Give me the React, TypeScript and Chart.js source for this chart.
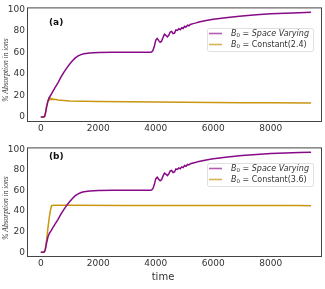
import React, { useEffect, useRef } from 'react';
import { Chart, registerables } from 'chart.js';
Chart.register(...registerables);

// Space-varying B0 (same in both panels)
const purpleT = [0, 100, 130, 160, 200, 250, 300, 350, 400, 500, 600, 700, 800, 900, 1000, 1100, 1200, 1300, 1400, 1500, 1700, 2000, 2500, 3000, 3500, 3800, 3850, 3900, 3950, 4000, 4050, 4100, 4150, 4200, 4250, 4300, 4350, 4400, 4450, 4500, 4550, 4600, 4650, 4700, 4750, 4800, 4850, 4900, 4950, 5000, 5050, 5100, 5150, 5200, 5300, 5400, 5500, 5750, 6000, 6500, 7000, 7500, 8000, 8500, 9000, 9400];
const purpleV = [0, 0, 0.5, 3, 9, 15, 18.5, 20.5, 23, 27.5, 32, 37, 41.5, 45.5, 49, 52.3, 55, 56.8, 58, 58.8, 59.6, 60, 60.2, 60.2, 60.2, 60.2, 60.5, 61.8, 66, 71.5, 73, 71, 69.5, 70.5, 74, 77, 76, 74.5, 76, 79, 79.5, 77.5, 78, 81, 80.5, 82, 81.2, 83, 82.3, 84.3, 83.6, 85.3, 84.8, 86, 86.8, 87.5, 88.3, 89.7, 90.8, 92.6, 94, 95.1, 95.9, 96.5, 97, 97.3];

// Panel (a): constant B0 = 2.4
const goldAT = [0, 100, 130, 160, 200, 250, 280, 310, 340, 370, 400, 450, 500, 600, 800, 1000, 1500, 2000, 3000, 4000, 5000, 6000, 7000, 8000, 9400];
const goldAV = [0, 0, 0.5, 4, 10, 15, 17.3, 16, 17.5, 16.2, 17, 16.2, 16.5, 15.9, 15.4, 15, 14.7, 14.5, 14.2, 14, 13.8, 13.6, 13.4, 13.2, 13];

// Panel (b): constant B0 = 3.6
const goldBT = [0, 100, 150, 200, 250, 300, 350, 380, 500, 1000, 3000, 6000, 9000, 9400];
const goldBV = [0, 0, 2, 12, 24, 35, 43, 45.5, 45.6, 45.6, 45.5, 45.5, 45.4, 45.2];

const xTicks = [0, 2000, 4000, 6000, 8000];
const yTicks = [0, 20, 40, 60, 80, 100];
const xMin = -480;
const xMax = 9780;
const yMin = -4.6;
const yMax = 101.9;

const seriesName = 'Space Varying';
const constantA = 'Constant(2.4)';
const constantB = 'Constant(3.6)';
const yTitle = '% Absorption in ions';
const xTitle = 'time';

const PURPLE = '#870a87';
const GOLD = '#c8960f';
const PURPLE_L = '#b45cb4';
const GOLD_L = '#d9b257';
const TEXT = '#333333';

const pts = (t: number[], v: number[]) => t.map((x, i) => ({ x, y: v[i] }));

type PanelOpts = {
  goldT: number[];
  goldV: number[];
  height: number;
  padTop: number;
  xHeight: number;
  panel: string;
  panelY: number;
  constantLabel: string;
  legendY: number;
  yTitleY: number;
  showXTitle: boolean;
  xTitleY: number;
};

function drawLegendRow(ctx: CanvasRenderingContext2D, x: number, y: number, color: string, italicTail: boolean, tail: string) {
  ctx.save();
  ctx.strokeStyle = color;
  ctx.lineWidth = 1.6;
  ctx.beginPath();
  ctx.moveTo(x, y);
  ctx.lineTo(x + 13, y);
  ctx.stroke();
  ctx.fillStyle = TEXT;
  ctx.textBaseline = 'middle';
  ctx.textAlign = 'left';
  let tx = x + 22;
  ctx.font = 'italic 8px "DejaVu Sans"';
  ctx.fillText('B', tx, y);
  tx += ctx.measureText('B').width;
  ctx.font = '5.5px "DejaVu Sans"';
  ctx.fillText('0', tx, y + 2);
  tx += ctx.measureText('0').width;
  ctx.font = '8px "DejaVu Sans"';
  ctx.fillText(' = ', tx, y);
  tx += ctx.measureText(' = ').width;
  ctx.font = (italicTail ? 'italic ' : '') + '8px "DejaVu Sans"';
  ctx.fillText(tail, tx, y);
  ctx.restore();
}

function makeConfig(o: PanelOpts): any {
  const deco = {
    id: 'deco',
    afterDraw(chart: any) {
      const { ctx, chartArea } = chart;
      const { left, top, right, bottom } = chartArea;
      ctx.save();
      // frame
      ctx.strokeStyle = '#444444';
      ctx.lineWidth = 1;
      ctx.strokeRect(left + 0.5, top + 0.5, right - left - 1, bottom - top - 1);
      // panel label
      ctx.fillStyle = '#111111';
      ctx.font = 'bold 9px "DejaVu Sans"';
      ctx.textBaseline = 'middle';
      ctx.textAlign = 'left';
      ctx.fillText(o.panel, 49, o.panelY);
      // legend box
      const bx = 207, by = o.legendY, bw = 106, bh = 23;
      ctx.fillStyle = 'rgba(255,255,255,0.9)';
      ctx.strokeStyle = '#d8d8d8';
      ctx.lineWidth = 0.8;
      ctx.beginPath();
      if ((ctx as any).roundRect) (ctx as any).roundRect(bx + 0.5, by + 0.5, bw, bh, 2);
      else ctx.rect(bx + 0.5, by + 0.5, bw, bh);
      ctx.fill();
      ctx.stroke();
      drawLegendRow(ctx, 209, by + 5.5, PURPLE_L, true, seriesName);
      drawLegendRow(ctx, 209, by + 16.5, GOLD_L, false, o.constantLabel);
      // y title
      ctx.save();
      ctx.translate(6, o.yTitleY);
      ctx.rotate(-Math.PI / 2);
      ctx.fillStyle = TEXT;
      ctx.font = 'italic 7.5px "Liberation Serif"';
      ctx.textAlign = 'center';
      ctx.textBaseline = 'middle';
      ctx.fillText(yTitle, 0, 0);
      ctx.restore();
      if (o.showXTitle) {
        ctx.fillStyle = TEXT;
        ctx.font = '10px "DejaVu Sans"';
        ctx.textAlign = 'center';
        ctx.textBaseline = 'middle';
        ctx.fillText(xTitle, 163, o.xTitleY);
      }
      ctx.restore();
    },
  };
  return {
    type: 'line',
    data: {
      datasets: [
        {
          data: pts(purpleT, purpleV),
          borderColor: PURPLE,
          borderWidth: 1.5,
          pointRadius: 0,
          tension: 0,
        },
        {
          data: pts(o.goldT, o.goldV),
          borderColor: GOLD,
          borderWidth: 1.5,
          pointRadius: 0,
          tension: 0,
        },
      ],
    },
    options: {
      animation: false,
      responsive: false,
      devicePixelRatio: 1,
      layout: { padding: { top: o.padTop, right: 3, left: 0, bottom: 0 } },
      plugins: { legend: { display: false }, tooltip: { enabled: false } },
      scales: {
        x: {
          type: 'linear',
          min: xMin,
          max: xMax,
          grid: { display: false, drawTicks: false },
          border: { display: false },
          afterBuildTicks: (s: any) => { s.ticks = xTicks.map((v) => ({ value: v })); },
          afterFit: (s: any) => { s.height = o.xHeight; },
          ticks: { color: TEXT, font: { family: 'DejaVu Sans', size: 9 }, padding: 1, maxRotation: 0, callback: (v: any) => String(v) },
        },
        y: {
          type: 'linear',
          min: yMin,
          max: yMax,
          grid: { display: false, drawTicks: false },
          border: { display: false },
          afterBuildTicks: (s: any) => { s.ticks = yTicks.map((v) => ({ value: v })); },
          afterFit: (s: any) => { s.width = 27; },
          ticks: { color: TEXT, font: { family: 'DejaVu Sans', size: 9 }, padding: 2, callback: (v: any) => String(v) },
        },
      },
    },
    plugins: [deco],
  };
}

function Panel({ o, top }: { o: PanelOpts; top: number }) {
  const ref = useRef<HTMLCanvasElement>(null);
  useEffect(() => {
    if (!ref.current) return;
    const chart = new Chart(ref.current, makeConfig(o));
    return () => chart.destroy();
  }, []);
  return (
    <canvas
      ref={ref}
      width={325}
      height={o.height}
      style={{ position: 'absolute', left: 0, top, width: 325, height: o.height }}
    />
  );
}

const panelA: PanelOpts = {
  goldT: goldAT, goldV: goldAV, height: 140, padTop: 5, xHeight: 18,
  panel: '(a)', panelY: 22.7, constantLabel: constantA, legendY: 28,
  yTitleY: 70, showXTitle: false, xTitleY: 0,
};
const panelB: PanelOpts = {
  goldT: goldBT, goldV: goldBV, height: 149, padTop: 0, xHeight: 32,
  panel: '(b)', panelY: 16.7, constantLabel: constantB, legendY: 23,
  yTitleY: 68, showXTitle: true, xTitleY: 137,
};

export default function App() {
  return (
    <div style={{ position: 'absolute', left: 0, top: 0, width: 325, height: 289, background: '#fff' }}>
      <Panel o={panelA} top={0} />
      <Panel o={panelB} top={140} />
    </div>
  );
}
